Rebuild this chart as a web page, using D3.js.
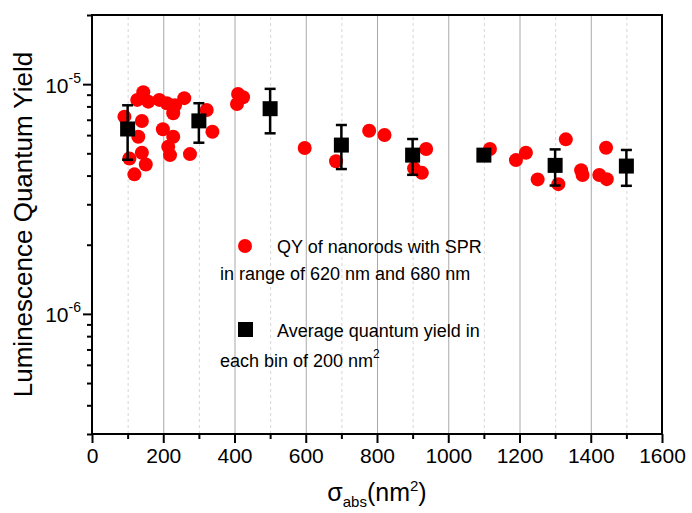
<!DOCTYPE html>
<html>
<head>
<meta charset="utf-8">
<script src="https://cdn.jsdelivr.net/npm/d3@7"></script>
<style>
  body { margin: 0; background: #fff; }
  text { font-family: "Liberation Sans", Arial, sans-serif; fill: #000; }
</style>
</head>
<body>
<svg id="chart" width="692" height="513"></svg>
<script>
/*
 * Luminescence quantum yield of single nanorods vs absorption cross-section,
 * with bin averages (200 nm^2 bins) on a log y axis.
 */

// single nanorods (red circles)
var rodSigma = [91, 144, 127, 158, 189, 210, 228, 233, 259, 140, 130, 199, 228, 214, 219,
  140, 105, 151, 119, 275, 322, 338, 410, 424, 407, 597, 685, 778, 821, 938, 904, 926,
  1117, 1190, 1218, 1251, 1309, 1330, 1373, 1377, 1443, 1424, 1445];
var rodQY = [7.22e-6, 9.23e-6, 8.54e-6, 8.39e-6, 8.54e-6, 8.26e-6, 7.47e-6, 8.09e-6, 8.69e-6,
  6.91e-6, 5.90e-6, 6.36e-6, 5.90e-6, 5.34e-6, 4.91e-6, 5.03e-6, 4.75e-6, 4.47e-6, 4.05e-6,
  4.96e-6, 7.72e-6, 6.21e-6, 9.07e-6, 8.77e-6, 8.20e-6, 5.27e-6, 4.62e-6, 6.27e-6, 6.01e-6,
  5.22e-6, 4.30e-6, 4.11e-6, 5.22e-6, 4.67e-6, 5.03e-6, 3.85e-6, 3.67e-6, 5.75e-6, 4.22e-6,
  4.02e-6, 5.29e-6, 4.02e-6, 3.86e-6];

// bin averages (black squares) with error bar limits
var binSigma = [100, 300, 500, 700, 900, 1100, 1300, 1500];
var binQY = [6.38e-6, 6.92e-6, 7.82e-6, 5.43e-6, 4.91e-6, 4.91e-6, 4.43e-6, 4.40e-6];
var binLow = [4.69e-6, 5.56e-6, 6.11e-6, 4.27e-6, 4.03e-6, 4.72e-6, 3.62e-6, 3.61e-6];
var binHigh = [8.09e-6, 8.26e-6, 9.54e-6, 6.64e-6, 5.77e-6, 5.12e-6, 5.20e-6, 5.17e-6];

var xMajor = [0, 200, 400, 600, 800, 1000, 1200, 1400, 1600];
var xMinor = [100, 300, 500, 700, 900, 1100, 1300, 1500];
var yMajor = [1e-6, 1e-5];
var yMinor = [3e-7, 4e-7, 5e-7, 6e-7, 7e-7, 8e-7, 9e-7,
  2e-6, 3e-6, 4e-6, 5e-6, 6e-6, 7e-6, 8e-6, 9e-6, 2e-5];

var legendRod = ["QY of nanorods with SPR", "in range of 620 nm and 680 nm"];
var legendBin = ["Average quantum yield in", "each bin of 200 nm"];

var svg = d3.select("#chart"),
  margin = {top: 15, right: 30, bottom: 79, left: 92},
  width = +svg.attr("width") - margin.left - margin.right,
  height = +svg.attr("height") - margin.top - margin.bottom;

var x = d3.scaleLinear().domain([0, 1600]).range([0, width]);
var y = d3.scaleLog().domain([3e-7, 2e-5]).range([height, 0]);

var g = svg.append("g")
  .attr("transform", "translate(" + margin.left + "," + margin.top + ")");

// vertical grid: solid at majors, dashed at minors
g.append("g")
  .attr("transform", "translate(0," + height + ")")
  .call(d3.axisBottom(x).tickValues(xMajor.slice(1, -1)).tickSize(-height).tickFormat(""))
  .call(function(s) {
    s.select(".domain").remove();
    s.selectAll("line").attr("stroke", "#a8a8a8").attr("stroke-width", 1);
  });
g.append("g")
  .attr("transform", "translate(0," + height + ")")
  .call(d3.axisBottom(x).tickValues(xMinor).tickSize(-height).tickFormat(""))
  .call(function(s) {
    s.select(".domain").remove();
    s.selectAll("line").attr("stroke", "#d6d6d6").attr("stroke-width", 1)
      .attr("stroke-dasharray", "3,3");
  });

// red circles
g.selectAll(".rod")
  .data(rodSigma)
  .enter()
  .append("circle")
    .attr("class", "rod")
    .attr("cx", function(d) { return x(d); })
    .attr("cy", function(d, i) { return y(rodQY[i]); })
    .attr("r", 7)
    .attr("fill", "#ff0000");

// error bars
var bars = g.selectAll(".bin")
  .data(binSigma)
  .enter()
  .append("g")
    .attr("class", "bin");
bars.append("line")
  .attr("x1", function(d) { return x(d); })
  .attr("x2", function(d) { return x(d); })
  .attr("y1", function(d, i) { return y(binLow[i]); })
  .attr("y2", function(d, i) { return y(binHigh[i]); })
  .attr("stroke", "#000").attr("stroke-width", 2.5);
[binLow, binHigh].forEach(function(arr) {
  bars.append("line")
    .attr("x1", function(d) { return x(d) - 5.5; })
    .attr("x2", function(d) { return x(d) + 5.5; })
    .attr("y1", function(d, i) { return y(arr[i]); })
    .attr("y2", function(d, i) { return y(arr[i]); })
    .attr("stroke", "#000").attr("stroke-width", 2.5);
});
bars.append("rect")
  .attr("x", function(d) { return x(d) - 7.5; })
  .attr("y", function(d, i) { return y(binQY[i]) - 7.5; })
  .attr("width", 15)
  .attr("height", 15)
  .attr("fill", "#000");

// X axis
g.append("g")
  .attr("transform", "translate(0," + height + ")")
  .call(d3.axisBottom(x).tickValues(xMinor).tickSize(5).tickFormat(""))
  .call(function(s) { s.select(".domain").remove(); s.selectAll("line").attr("stroke-width", 2); });
g.append("g")
  .attr("transform", "translate(0," + height + ")")
  .call(d3.axisBottom(x).tickValues(xMajor).tickSize(9).tickPadding(5).tickFormat(d3.format("d")))
  .call(function(s) {
    s.select(".domain").remove();
    s.selectAll("line").attr("stroke-width", 2);
    s.selectAll("text").attr("font-size", 21).attr("font-family", "Liberation Sans, Arial, sans-serif");
  });

// Y axis
g.append("g")
  .call(d3.axisLeft(y).tickValues(yMinor).tickSize(5).tickFormat(""))
  .call(function(s) { s.select(".domain").remove(); s.selectAll("line").attr("stroke-width", 2); });
g.append("g")
  .call(d3.axisLeft(y).tickValues(yMajor).tickSize(9).tickFormat(""))
  .call(function(s) {
    s.select(".domain").remove();
    s.selectAll("line").attr("stroke-width", 2);
    var t = s.selectAll(".tick").append("text")
      .attr("x", -11)
      .attr("dy", 8)
      .attr("text-anchor", "end")
      .attr("font-size", 21);
    t.append("tspan").text("10");
    t.append("tspan").attr("dy", -10).attr("font-size", 14)
      .text(function(d) { return String(Math.round(Math.log10(d))); });
  });

// frame
g.append("rect")
  .attr("width", width)
  .attr("height", height)
  .attr("fill", "none")
  .attr("stroke", "#000")
  .attr("stroke-width", 2);

// legend
var leg = g.append("g").attr("font-size", 18);
leg.append("circle").attr("cx", 153).attr("cy", 231).attr("r", 7).attr("fill", "#ff0000");
leg.append("text").attr("x", 185).attr("y", 238).text(legendRod[0]);
leg.append("text").attr("x", 128).attr("y", 265).text(legendRod[1]);
leg.append("rect").attr("x", 146).attr("y", 307).attr("width", 15).attr("height", 15).attr("fill", "#000");
leg.append("text").attr("x", 185).attr("y", 322).text(legendBin[0]);
var lt = leg.append("text").attr("x", 128).attr("y", 352);
lt.append("tspan").text(legendBin[1]);
lt.append("tspan").attr("dy", -9).attr("font-size", 12).text("2");

// axis titles
svg.append("text")
  .attr("transform", "translate(32," + (margin.top + height / 2) + ") rotate(-90)")
  .attr("text-anchor", "middle")
  .attr("font-size", 26)
  .text("Luminescence Quantum Yield");

var xt = svg.append("text")
  .attr("x", margin.left + width / 2)
  .attr("y", 501)
  .attr("text-anchor", "middle")
  .attr("font-size", 25);
xt.append("tspan").text("\u03c3");
xt.append("tspan").attr("font-size", 15).attr("dy", 6).text("abs");
xt.append("tspan").attr("dy", -6).text("(nm");
xt.append("tspan").attr("font-size", 15).attr("dy", -10).text("2");
xt.append("tspan").attr("dy", 10).text(")");
</script>
</body>
</html>
